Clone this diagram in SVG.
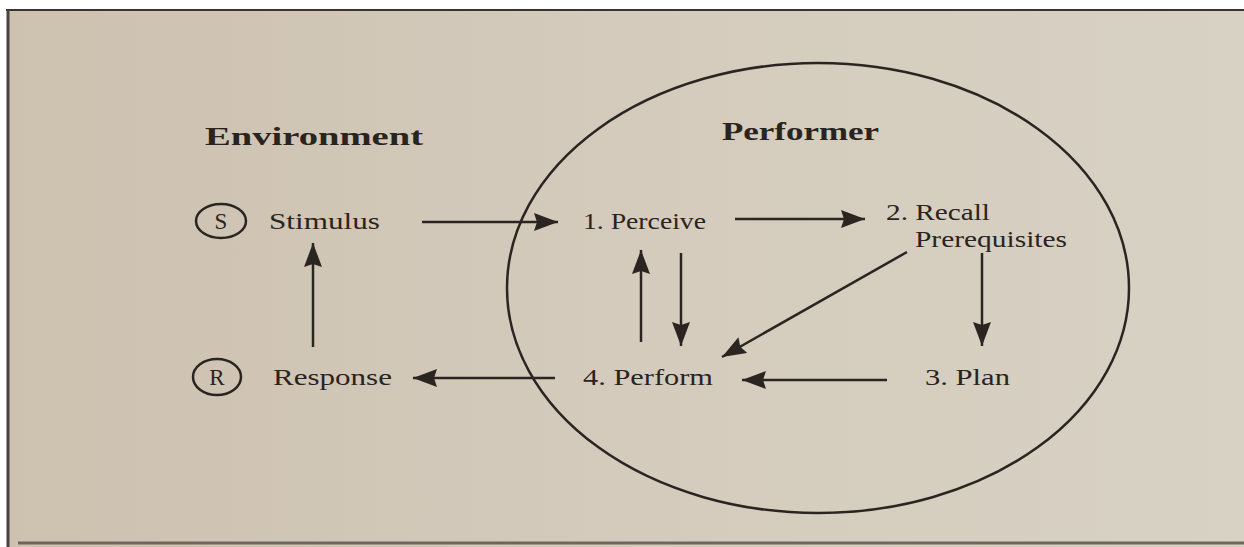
<svg xmlns="http://www.w3.org/2000/svg" width="1244" height="547" viewBox="0 0 1244 547">
  <defs>
    <linearGradient id="page" x1="0" y1="0" x2="1" y2="0">
      <stop offset="0" stop-color="#cdc1b0"/>
      <stop offset="0.5" stop-color="#d4cbbc"/>
      <stop offset="1" stop-color="#d8d2c4"/>
    </linearGradient>
    <marker id="ah" markerUnits="userSpaceOnUse" markerWidth="26" markerHeight="18" refX="24" refY="9" orient="auto">
      <path d="M0,0 L24,9 L0,18 L3,9 Z" fill="#2a2521"/>
    </marker>
  </defs>
  <style>
    .t { font-family: "Liberation Serif", "Times New Roman", serif; fill: #2a2420; font-size: 23px; }
    .h { font-family: "Liberation Serif", "Times New Roman", serif; fill: #2a2420; font-size: 26px; font-weight: bold; }
    .c { fill: none; stroke: #2a2521; stroke-width: 2.5; marker-end: url(#ah); }
    .o { fill: none; stroke: #2a2521; stroke-width: 2.5; }
  </style>
  <rect x="0" y="0" width="1244" height="547" fill="#ffffff"/>
  <rect x="8" y="10" width="1236" height="537" fill="url(#page)"/>
  <line x1="6" y1="10" x2="1244" y2="10" stroke="#3a3430" stroke-width="2"/>
  <line x1="8" y1="10" x2="8" y2="547" stroke="#4a4440" stroke-width="3"/>
  <line x1="18" y1="543" x2="1244" y2="543" stroke="#6e675c" stroke-width="3"/>

  <g id="performer-boundary">
    <ellipse cx="818" cy="288" rx="311" ry="225" class="o"/>
  </g>

  <g id="environment-label">
    <text class="h" x="205" y="145" textLength="218" lengthAdjust="spacingAndGlyphs">Environment</text>
  </g>
  <g id="performer-label">
    <text class="h" x="722" y="140" textLength="157" lengthAdjust="spacingAndGlyphs">Performer</text>
  </g>

  <g id="stimulus">
    <ellipse cx="221" cy="221" rx="25" ry="17" class="o"/>
    <text class="t" x="221" y="229" text-anchor="middle">S</text>
    <text class="t" x="269" y="229" textLength="111" lengthAdjust="spacingAndGlyphs">Stimulus</text>
  </g>
  <g id="response">
    <ellipse cx="217" cy="377" rx="24" ry="18" class="o"/>
    <text class="t" x="217" y="385" text-anchor="middle">R</text>
    <text class="t" x="273" y="385" textLength="119" lengthAdjust="spacingAndGlyphs">Response</text>
  </g>
  <g id="perceive">
    <text class="t" x="583" y="229" textLength="123" lengthAdjust="spacingAndGlyphs">1. Perceive</text>
  </g>
  <g id="recall">
    <text class="t" x="886" y="220" textLength="104" lengthAdjust="spacingAndGlyphs">2. Recall</text>
    <text class="t" x="915" y="247" textLength="152" lengthAdjust="spacingAndGlyphs">Prerequisites</text>
  </g>
  <g id="plan">
    <text class="t" x="925" y="385" textLength="85" lengthAdjust="spacingAndGlyphs">3. Plan</text>
  </g>
  <g id="perform">
    <text class="t" x="583" y="385" textLength="130" lengthAdjust="spacingAndGlyphs">4. Perform</text>
  </g>

  <g id="connectors">
    <line class="c" x1="422" y1="222" x2="558" y2="222"/>
    <line class="c" x1="735" y1="219" x2="865" y2="219"/>
    <line class="c" x1="982" y1="253" x2="982" y2="346"/>
    <line class="c" x1="887" y1="380" x2="742" y2="380"/>
    <line class="c" x1="555" y1="378" x2="413" y2="378"/>
    <line class="c" x1="313" y1="347" x2="313" y2="243"/>
    <line class="c" x1="641" y1="342" x2="641" y2="250"/>
    <line class="c" x1="681" y1="253" x2="681" y2="346"/>
    <line class="c" x1="907" y1="252" x2="722" y2="357"/>
  </g>
</svg>
